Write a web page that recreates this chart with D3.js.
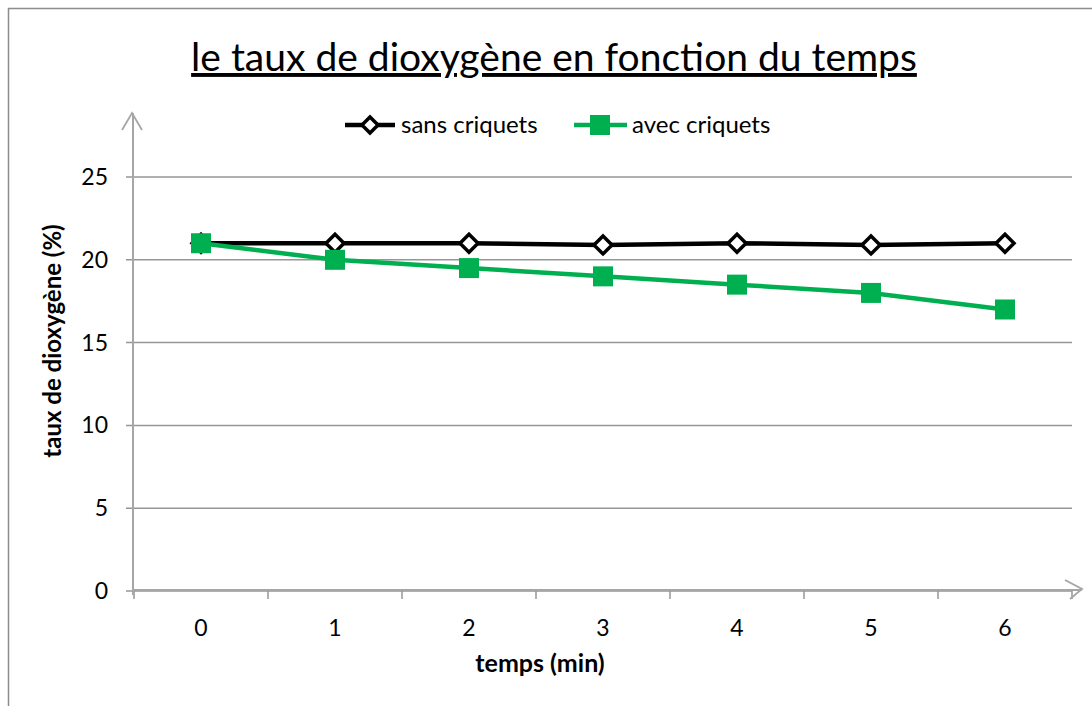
<!DOCTYPE html>
<html>
<head>
<meta charset="utf-8">
<script src="https://cdn.jsdelivr.net/npm/d3@7"></script>
<style>
  body { margin: 0; background: #fff; }
  text { font-family: Lato, "Open Sans", sans-serif; fill: #000; }
</style>
</head>
<body>
<div id="chart"></div>
<script>
// data
const temps = ['0', '1', '2', '3', '4', '5', '6']
const sansCriquets = [21, 21, 21, 20.9, 21, 20.9, 21]
const avecCriquets = [21, 20, 19.5, 19, 18.5, 18, 17]
const yTicks = [0, 5, 10, 15, 20, 25]

const width = 1092
const height = 706
const plot = { left: 134, right: 1072, top: 177, bottom: 591 }

const svg = d3.select('#chart').append('svg')
  .attr('width', width)
  .attr('height', height)

// chart frame
svg.append('rect')
  .attr('x', 8.5).attr('y', 8.5)
  .attr('width', width + 10).attr('height', height + 10)
  .attr('fill', 'none')
  .attr('stroke', '#8c8c8c')
  .attr('stroke-width', 1.5)

const x = d3.scaleBand()
  .domain(temps)
  .range([plot.left, plot.right])

const y = d3.scaleLinear()
  .domain([0, 25])
  .range([plot.bottom, plot.top])

// horizontal gridlines + y ticks
svg.append('g')
  .selectAll('line')
  .data(yTicks)
  .enter()
  .append('line')
  .attr('x1', plot.left - 8)
  .attr('x2', plot.right)
  .attr('y1', d => y(d))
  .attr('y2', d => y(d))
  .attr('stroke', '#969696')
  .attr('stroke-width', 1.5)

svg.append('g')
  .selectAll('text')
  .data(yTicks)
  .enter()
  .append('text')
  .attr('x', 108)
  .attr('y', d => y(d))
  .attr('dy', '0.35em')
  .attr('text-anchor', 'end')
  .style('font-size', '23px')
  .text(d => d)

// x ticks at band edges
const edges = temps.map(t => x(t)).concat([plot.right])
svg.append('g')
  .selectAll('line')
  .data(edges)
  .enter()
  .append('line')
  .attr('x1', d => d).attr('x2', d => d)
  .attr('y1', plot.bottom).attr('y2', plot.bottom + 8)
  .attr('stroke', '#969696')
  .attr('stroke-width', 1.5)

svg.append('g')
  .selectAll('text')
  .data(temps)
  .enter()
  .append('text')
  .attr('x', d => x(d) + x.bandwidth() / 2)
  .attr('y', 628)
  .attr('dy', '0.35em')
  .attr('text-anchor', 'middle')
  .style('font-size', '23px')
  .text(d => d)

// axes with open arrow heads
const axisColor = '#a6a6a6'
svg.append('line')
  .attr('x1', plot.left - 1).attr('x2', plot.left - 1)
  .attr('y1', plot.bottom + 4).attr('y2', 113)
  .attr('stroke', axisColor).attr('stroke-width', 2)
svg.append('path')
  .attr('d', `M122,130 L${plot.left - 2},113 L142,130`)
  .attr('fill', 'none').attr('stroke', axisColor).attr('stroke-width', 1.8)

svg.append('line')
  .attr('x1', plot.left).attr('x2', 1082)
  .attr('y1', plot.bottom - 1).attr('y2', plot.bottom - 1)
  .attr('stroke', axisColor).attr('stroke-width', 2)
svg.append('path')
  .attr('d', `M1065,580 L1082,${plot.bottom - 2} L1070,599`)
  .attr('fill', 'none').attr('stroke', axisColor).attr('stroke-width', 1.8)

// lines
const line = d3.line()
  .x((d, i) => x(temps[i]) + x.bandwidth() / 2)
  .y(d => y(d))

svg.append('path')
  .datum(sansCriquets)
  .attr('d', line)
  .attr('fill', 'none')
  .attr('stroke', '#000')
  .attr('stroke-width', 4.5)

svg.append('g')
  .selectAll('path')
  .data(sansCriquets)
  .enter()
  .append('path')
  .attr('transform', (d, i) => `translate(${x(temps[i]) + x.bandwidth() / 2},${y(d)})`)
  .attr('d', 'M0,-9 L9,0 L0,9 L-9,0 Z')
  .attr('fill', '#fff')
  .attr('stroke', '#000')
  .attr('stroke-width', 3.5)

svg.append('path')
  .datum(avecCriquets)
  .attr('d', line)
  .attr('fill', 'none')
  .attr('stroke', '#00b050')
  .attr('stroke-width', 4.5)

svg.append('g')
  .selectAll('rect')
  .data(avecCriquets)
  .enter()
  .append('rect')
  .attr('x', (d, i) => x(temps[i]) + x.bandwidth() / 2 - 10)
  .attr('y', d => y(d) - 10)
  .attr('width', 20)
  .attr('height', 20)
  .attr('fill', '#00b050')

// title
svg.append('text')
  .attr('x', 554)
  .attr('y', 71)
  .attr('text-anchor', 'middle')
  .style('font-size', '39px')
  .style('text-decoration', 'underline')
  .text('le taux de dioxygène en fonction du temps')

// legend
const legendY = 125
svg.append('line')
  .attr('x1', 345).attr('x2', 395)
  .attr('y1', legendY).attr('y2', legendY)
  .attr('stroke', '#000').attr('stroke-width', 4.5)
svg.append('path')
  .attr('transform', `translate(370,${legendY})`)
  .attr('d', 'M0,-8 L8,0 L0,8 L-8,0 Z')
  .attr('fill', '#fff').attr('stroke', '#000').attr('stroke-width', 3.5)
svg.append('text')
  .attr('x', 401).attr('y', legendY).attr('dy', '0.35em')
  .style('font-size', '24px')
  .text('sans criquets')

svg.append('line')
  .attr('x1', 574).attr('x2', 627)
  .attr('y1', legendY).attr('y2', legendY)
  .attr('stroke', '#00b050').attr('stroke-width', 4.5)
svg.append('rect')
  .attr('x', 590).attr('y', legendY - 10)
  .attr('width', 20).attr('height', 20)
  .attr('fill', '#00b050')
svg.append('text')
  .attr('x', 632).attr('y', legendY).attr('dy', '0.35em')
  .style('font-size', '24px')
  .text('avec criquets')

// axis titles
svg.append('text')
  .attr('transform', 'translate(61,341) rotate(-90)')
  .attr('text-anchor', 'middle')
  .style('font-size', '24px')
  .style('font-weight', 'bold')
  .text('taux de dioxygène (%)')

svg.append('text')
  .attr('x', 540)
  .attr('y', 663)
  .attr('dy', '0.35em')
  .attr('text-anchor', 'middle')
  .style('font-size', '25px')
  .style('font-weight', 'bold')
  .text('temps (min)')
</script>
</body>
</html>
